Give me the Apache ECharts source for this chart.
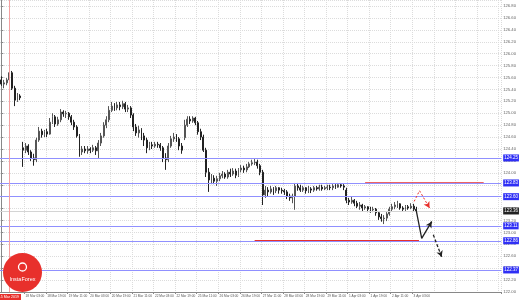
<!DOCTYPE html>
<html><head><meta charset="utf-8">
<script src="https://cdn.jsdelivr.net/npm/echarts@6/dist/echarts.min.js"></script>
<style>html,body{margin:0;padding:0;background:#fff}#c{width:519px;height:301px}</style>
</head><body><div id="c"></div>
<script>
// H2 bars: [day, first bar hour, number of bars]
const sessions = [['15 Mar',9,8],['18 Mar',1,12],['19 Mar',1,12],['20 Mar',1,12],['21 Mar',1,12],['22 Mar',1,12],
  ['25 Mar',1,12],['26 Mar',1,12],['27 Mar',1,12],['28 Mar',1,12],['29 Mar',1,12],
  ['1 Apr',1,12],['2 Apr',1,12],['3 Apr',1,12],['4 Apr',1,12],['5 Apr',1,10]];

const opens = [
125.56,125.49,125.51,125.56,125.68,125.42,125.22,125.29,
124.42,124.38,124.45,124.35,124.25,124.22,124.55,124.70,124.64,124.69,124.65,124.85,
124.94,124.82,124.89,125.02,124.99,125.00,124.94,124.85,124.77,124.62,124.35,124.40,
124.37,124.40,124.38,124.42,124.37,124.50,124.62,124.80,124.89,125.05,125.12,125.09,
125.14,125.11,125.16,125.07,125.09,124.97,124.77,124.67,124.72,124.62,124.55,124.42,
124.47,124.45,124.48,124.47,124.42,124.25,124.22,124.45,124.57,124.60,124.57,124.45,
124.59,124.80,124.90,124.87,124.92,124.84,124.69,124.60,124.38,124.01,123.88,123.91,
123.86,123.90,123.95,123.98,123.93,124.01,123.98,124.03,123.96,124.05,124.08,124.05,
124.10,124.15,124.17,124.18,124.12,124.01,123.63,123.71,123.68,123.73,123.70,123.75,
123.71,123.70,123.68,123.61,123.58,123.61,123.78,123.75,123.71,123.75,123.70,123.73,
123.71,123.75,123.73,123.76,123.73,123.75,123.76,123.75,123.78,123.76,123.80,123.78,
123.71,123.54,123.51,123.54,123.49,123.44,123.46,123.41,123.43,123.39,123.38,123.39,
123.33,123.26,123.23,123.24,123.31,123.39,123.43,123.46,123.48,123.41,123.39,123.43,
123.41,123.44,123.39];
const closes = [
125.49,125.51,125.56,125.68,125.42,125.22,125.29,125.26,
124.38,124.45,124.35,124.25,124.22,124.55,124.70,124.64,124.69,124.65,124.85,124.94,
124.82,124.89,125.02,124.99,125.00,124.94,124.85,124.77,124.62,124.35,124.40,124.37,
124.40,124.38,124.42,124.37,124.50,124.62,124.80,124.89,125.05,125.12,125.09,125.14,
125.11,125.16,125.07,125.09,124.97,124.77,124.67,124.72,124.62,124.55,124.42,124.47,
124.45,124.48,124.47,124.42,124.25,124.22,124.45,124.57,124.60,124.57,124.45,124.38,
124.80,124.90,124.87,124.92,124.84,124.69,124.60,124.38,124.01,123.88,123.91,123.86,
123.90,123.95,123.98,123.93,124.01,123.98,124.03,123.96,124.05,124.08,124.05,124.10,
124.15,124.17,124.18,124.12,124.01,123.63,123.71,123.68,123.73,123.70,123.75,123.71,
123.70,123.68,123.61,123.58,123.61,123.78,123.75,123.71,123.75,123.70,123.73,123.71,
123.75,123.73,123.76,123.73,123.75,123.76,123.75,123.78,123.76,123.80,123.78,123.76,
123.54,123.51,123.54,123.49,123.44,123.46,123.41,123.43,123.39,123.38,123.39,123.33,
123.26,123.23,123.24,123.31,123.39,123.43,123.46,123.48,123.41,123.39,123.43,123.41,
123.44,123.39,123.36];
const lows = [
125.46,125.42,125.47,125.52,125.39,125.12,125.19,125.22,
124.10,124.33,124.30,124.20,124.12,124.18,124.52,124.59,124.60,124.60,124.64,124.82,
124.77,124.79,124.85,124.94,124.92,124.89,124.80,124.72,124.59,124.27,124.30,124.33,
124.32,124.33,124.35,124.30,124.25,124.45,124.59,124.75,124.85,125.02,125.04,125.05,
125.05,125.07,125.02,125.02,124.92,124.70,124.62,124.59,124.55,124.45,124.33,124.38,
124.40,124.42,124.42,124.37,124.18,124.05,124.18,124.42,124.52,124.52,124.38,124.32,
124.55,124.77,124.82,124.84,124.80,124.64,124.55,124.35,123.93,123.68,123.81,123.81,
123.78,123.86,123.91,123.90,123.90,123.93,123.95,123.91,123.93,124.01,124.00,124.01,
124.08,124.12,124.13,124.07,123.96,123.46,123.58,123.60,123.65,123.63,123.66,123.65,
123.65,123.63,123.56,123.53,123.49,123.38,123.70,123.68,123.68,123.65,123.66,123.66,
123.68,123.70,123.70,123.70,123.71,123.71,123.71,123.71,123.73,123.75,123.75,123.71,
123.49,123.46,123.48,123.44,123.41,123.38,123.36,123.38,123.34,123.33,123.34,123.28,
123.21,123.18,123.14,123.19,123.28,123.36,123.39,123.41,123.38,123.36,123.36,123.38,
123.39,123.36,123.33];
const highs = [
125.62,125.56,125.59,125.73,125.71,125.46,125.34,125.32,
124.52,124.50,124.48,124.38,124.32,124.59,124.77,124.74,124.72,124.74,124.92,125.00,
124.97,124.94,125.07,125.05,125.04,125.02,124.97,124.89,124.80,124.65,124.45,124.45,
124.45,124.43,124.47,124.45,124.55,124.67,124.85,124.95,125.12,125.19,125.17,125.19,
125.19,125.21,125.19,125.14,125.12,125.00,124.82,124.79,124.75,124.67,124.59,124.52,
124.52,124.52,124.52,124.50,124.45,124.33,124.50,124.62,124.67,124.65,124.60,124.50,
124.89,124.95,124.95,124.95,124.94,124.87,124.74,124.64,124.42,124.08,123.98,123.96,
123.95,124.00,124.03,124.01,124.05,124.07,124.08,124.07,124.08,124.13,124.12,124.15,
124.18,124.22,124.23,124.22,124.15,124.05,123.78,123.76,123.78,123.76,123.78,123.76,
123.75,123.73,123.71,123.65,123.65,123.83,123.83,123.80,123.78,123.76,123.78,123.76,
123.78,123.78,123.80,123.80,123.78,123.80,123.80,123.81,123.81,123.83,123.83,123.81,
123.75,123.58,123.60,123.56,123.53,123.51,123.48,123.46,123.44,123.43,123.43,123.41,
123.36,123.31,123.29,123.34,123.43,123.48,123.51,123.53,123.49,123.44,123.46,123.46,
123.49,123.48,123.43];

const levelLines = [124.25, 123.83, 123.60, 123.11, 122.86, 122.37];
const currentPrice = 123.36;
const redLevels = [[135, 179, 123.83], [94, 155, 122.86]]; // [from bar, to bar, price]
const separatorBar = 2.8;
const separatorText = '15 Mar 2019';
const arrowSolid = [[154, 123.36], [156, 122.90], [159.7, 123.18]];
const arrowDash = [[160.3, 122.96], [163.4, 122.59]];
const arrowRed = [[153.2, 123.52], [155.2, 123.70], [158.9, 123.41]];
const yMin = 122.00, yMax = 126.9007, yStep = 0.20;

const categories = [];
sessions.forEach(([d, h0, n]) => {
  for (let k = 0; k < n; k++) {
    const h = h0 + 2 * k;
    categories.push(d + ' ' + (h < 10 ? '0' : '') + h + ':00');
  }
});
const lastBar = opens.length - 1;
const candles = opens.map((o, i) => [o, closes[i], lows[i], highs[i]]);
const showLab = (i) => i >= 9 && i <= lastBar && (i - 9) % 8 === 0;
const showGrid = (i) => i >= 9 && (i - 9) % 8 === 0;
const FONT = 'Liberation Sans';

function arrowSeries(pts, color, type, width) {
  const n = pts.length;
  return {
    type: 'line', xAxisIndex: 1, yAxisIndex: 0, data: pts, showSymbol: false, silent: true,
    lineStyle: {color: color, width: width, type: type}, z: 5,
    markLine: {
      silent: true, animation: false, symbol: ['none', 'arrow'], symbolSize: [5, 6],
      lineStyle: {color: color, width: width, type: 'solid'}, label: {show: false},
      data: [[{coord: [pts[n-1][0] - (pts[n-1][0] - pts[n-2][0]) * 0.15, pts[n-1][1] - (pts[n-1][1] - pts[n-2][1]) * 0.15]}, {coord: pts[n-1]}]]
    }
  };
}

const chart = echarts.init(document.getElementById('c'), null, {renderer: 'canvas'});
const series = [
  {
    type: 'candlestick', xAxisIndex: 0, yAxisIndex: 0, data: candles, barWidth: 1.4,
    itemStyle: {color: '#555', color0: '#222', borderColor: '#555', borderColor0: '#222', borderWidth: 1},
    markLine: {
      silent: true, animation: false, symbol: ['none', 'none'],
      data: levelLines.map(v => ({
        yAxis: v, lineStyle: {color: '#9090ff', width: 1, type: 'solid'},
        label: {show: true, position: 'end', distance: 2, formatter: v.toFixed(2), backgroundColor: '#2f2ff5', color: '#fff', fontSize: 4.5, fontFamily: FONT, padding: [1, 1]}
      })).concat([{
        yAxis: currentPrice, lineStyle: {color: '#d4d4d4', width: 1, type: 'solid'},
        label: {show: true, position: 'end', distance: 2, formatter: currentPrice.toFixed(2), backgroundColor: '#222', color: '#fff', fontSize: 4.5, fontFamily: FONT, padding: [1, 1]}
      }])
    }
  },
  {
    type: 'line', xAxisIndex: 1, yAxisIndex: 0, data: [], silent: true,
    markLine: {
      silent: true, animation: false, symbol: ['none', 'none'],
      data: [{
        xAxis: separatorBar, lineStyle: {color: '#f4a0a0', width: 1, type: 'solid'},
        label: {show: true, position: 'start', distance: 2, formatter: separatorText, backgroundColor: '#e8302c', color: '#fff', fontSize: 3.6, fontFamily: FONT, padding: [1, 2]}
      }]
    }
  }
];
redLevels.forEach(([a, b, p]) => {
  series.push({type: 'line', xAxisIndex: 1, yAxisIndex: 0, data: [[a, p], [b, p]], showSymbol: false, silent: true,
    lineStyle: {color: '#e8302c', width: 1.6}, z: 4});
});
series.push(arrowSeries(arrowSolid, '#222', 'solid', 1.3));
series.push(arrowSeries(arrowDash, '#222', [3, 2], 1.3));
series.push(arrowSeries(arrowRed, '#e8302c', [2, 2], 1));

chart.setOption({
  animation: false,
  backgroundColor: '#ffffff',
  grid: {left: 0, right: 14, top: 0, bottom: 9},
  xAxis: [{
    type: 'category', data: categories, boundaryGap: true,
    axisLine: {show: true, lineStyle: {color: '#888', width: 1}},
    axisTick: {show: true, length: 2, interval: showLab, lineStyle: {color: '#888'}},
    axisLabel: {interval: showLab, fontSize: 3.2, color: '#555', margin: 2.5, align: 'left', fontFamily: FONT, hideOverlap: false},
    splitLine: {show: true, interval: showGrid, lineStyle: {color: '#dcdcdc', type: 'dotted', width: 1}}
  }, {
    type: 'value', min: -0.5, max: categories.length - 0.5, show: false
  }],
  yAxis: [{
    type: 'value', position: 'right', min: yMin, max: yMax, interval: yStep, scale: true,
    axisLine: {show: true, lineStyle: {color: '#888', width: 1}},
    axisTick: {show: true, length: 2, lineStyle: {color: '#888'}},
    axisLabel: {fontSize: 4.2, color: '#666', margin: 2, showMaxLabel: false, fontFamily: FONT, formatter: v => v.toFixed(2)},
    splitLine: {show: true, lineStyle: {color: '#dcdcdc', type: 'dotted', width: 1}}
  }],
  series: series,
  graphic: [
    {type: 'circle', left: 3, top: 253, shape: {r: 19.5}, style: {fill: '#e8302c'}, z: 100},
    {type: 'circle', shape: {cx: 22.5, cy: 267, r: 4}, style: {fill: 'none', stroke: '#fff', lineWidth: 1.3}, z: 101},
    {type: 'text', x: 22.5, y: 279, style: {text: 'InstaForex', fill: '#fff', fontSize: 5.5, fontFamily: FONT, align: 'center', verticalAlign: 'middle'}, z: 101}
  ]
});
</script></body></html>
